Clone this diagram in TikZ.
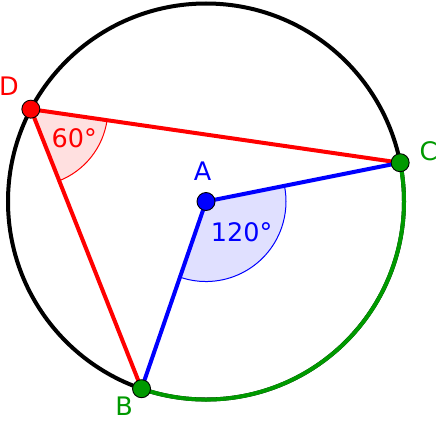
\documentclass[tikz,border=0pt]{standalone}
\usepackage{fontspec}
\setmainfont{DejaVu Sans}
\usetikzlibrary{angles}
\definecolor{ggred}{RGB}{255,0,0}
\definecolor{ggblue}{RGB}{0,0,255}
\definecolor{gggreen}{RGB}{0,153,0}
\tikzset{
  thick line/.style={line width=4bp},
  ptdot/.style={circle, draw=black, line width=0.9bp, minimum size=18bp, inner sep=0pt},
  lbl/.style={inner sep=0pt, font=\fontsize{25.5bp}{30bp}\selectfont},
  sector/.style={line width=1bp, angle radius=#1},
}
\begin{document}
\begin{tikzpicture}[x=1bp,y=1bp]
\useasboundingbox (0,0) rectangle (437,422);
\coordinate (A) at (206,220.5);
\coordinate (C) at ([shift={(11.3:198)}]A);
\coordinate (B) at ([shift={(251:198)}]A);
\coordinate (D) at ([shift={(152.2:198)}]A);
% angle sectors
\pic[draw=ggred, fill=ggred!12, sector=77bp] {angle=B--D--C};
\pic[draw=ggblue, fill=ggblue!12, sector=80bp] {angle=B--A--C};
% circle and arc
\draw[thick line, black] (A) circle[radius=198];
\draw[thick line, gggreen] (B) arc[start angle=-109, end angle=11.3, radius=198];
% segments
\draw[thick line, ggred] (C) -- (D) -- (B);
\draw[thick line, ggblue] (C) -- (A) -- (B);
% points
\node[ptdot, fill=ggblue] (pA) at (A) {};
\node[ptdot, fill=gggreen] (pB) at (B) {};
\node[ptdot, fill=gggreen] (pC) at (C) {};
\node[ptdot, fill=ggred] (pD) at (D) {};
% labels
\node[lbl, text=ggred] (lD) at (9,335.3) {D};
\node[lbl, text=ggblue] (lA) at (202.7,251.2) {A};
\node[lbl, text=gggreen] (lC) at (428.5,270.3) {C};
\node[lbl, text=gggreen] (lB) at (124.2,16) {B};
\node[lbl, text=ggred] (l60) at (74.2,283.7) {60°};
\node[lbl, text=ggblue] (l120) at (241.7,189.8) {120°};
\end{tikzpicture}
\end{document}
